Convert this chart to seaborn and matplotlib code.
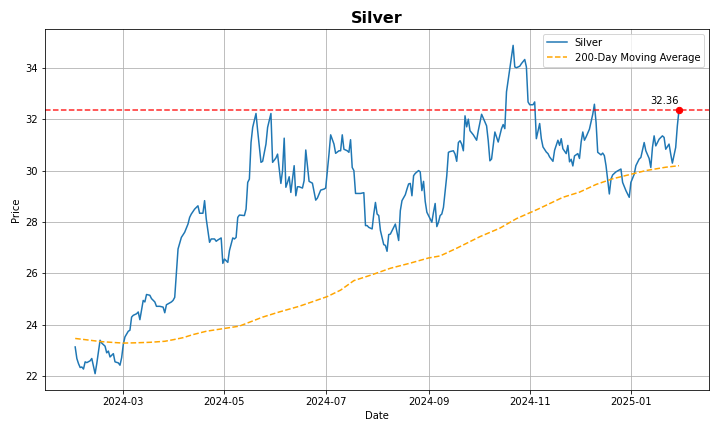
import matplotlib
matplotlib.use("Agg")
import matplotlib.pyplot as plt
import seaborn as sns
import pandas as pd

start_date = "2024-02-01"
threshold = 32.36

# days after start_date
price_days = [0, 1, 2, 3, 4, 5, 6, 7, 9, 10, 12, 13, 15, 16, 18, 19, 20, 21, 23, 24,
              26, 27, 28, 29, 30, 32, 33, 34, 35, 37, 38, 39, 41, 42, 43, 45, 46, 48, 49, 51,
              53, 54, 55, 58, 59, 60, 62, 64, 66, 68, 69, 70, 72, 74, 75, 77, 78, 79, 81, 82,
              84, 85, 86, 88, 89, 90, 92, 93, 95, 96, 97, 98, 99, 102, 103, 104, 105, 106, 107, 109,
              110, 112, 113, 115, 116, 118, 119, 121, 122, 124, 125, 126, 127, 128, 129, 130, 132, 133, 134, 135,
              137, 138, 139, 141, 143, 145, 146, 148, 150, 151, 153, 154, 156, 157, 159, 160, 161, 162, 164, 165,
              166, 167, 168, 169, 172, 174, 175, 176, 177, 179, 180, 181, 182, 183, 184, 186, 187, 188, 189, 190,
              192, 193, 194, 195, 196, 197, 199, 200, 201, 202, 203, 204, 205, 207, 208, 209, 210, 211, 212, 214,
              215, 216, 217, 218, 219, 220, 221, 222, 224, 225, 226, 228, 229, 230, 231, 232, 233, 234, 235, 236,
              237, 238, 240, 242, 243, 245, 246, 248, 249, 250, 251, 253, 254, 255, 257, 258, 259, 260, 261, 262,
              264, 265, 266, 268, 269, 271, 272, 273, 274, 276, 277, 278, 280, 281, 282, 284, 285, 286, 288, 289,
              291, 292, 293, 294, 296, 297, 298, 299, 300, 301, 303, 304, 305, 306, 307, 308, 310, 312, 313, 314,
              315, 317, 318, 319, 320, 322, 323, 324, 326, 329, 330, 332, 334, 335, 337, 338, 340, 341, 343, 344,
              346, 347, 348, 349, 350, 352, 354, 355, 356, 358, 359, 360, 362, 363, 364]

price_vals = [23.14, 22.69, 22.49, 22.34, 22.36, 22.28, 22.56, 22.53, 22.60, 22.69, 22.10, 22.49, 23.40, 23.29, 23.17, 22.91, 22.98, 22.75, 22.88, 22.56,
              22.52, 22.43, 22.72, 23.24, 23.53, 23.75, 23.79, 24.30, 24.37, 24.43, 24.50, 24.20, 24.95, 24.89, 25.18, 25.15, 25.02, 24.89, 24.72, 24.72,
              24.69, 24.47, 24.78, 24.89, 24.95, 25.07, 26.95, 27.40, 27.60, 27.92, 28.18, 28.31, 28.50, 28.63, 28.34, 28.34, 28.83, 28.12, 27.21, 27.34,
              27.34, 27.25, 27.30, 27.38, 26.39, 26.56, 26.43, 26.89, 27.38, 27.34, 27.40, 28.18, 28.27, 28.25, 28.50, 29.54, 29.67, 31.09, 31.68, 32.22,
              31.55, 30.32, 30.36, 31.03, 31.68, 32.22, 30.32, 30.49, 30.64, 29.50, 30.00, 31.26, 29.35, 29.54, 29.76, 29.15, 30.19, 29.02, 29.37, 29.37,
              29.32, 29.61, 30.80, 29.58, 29.51, 28.85, 28.93, 29.24, 29.28, 29.32, 30.64, 31.39, 31.03, 30.67, 30.77, 30.77, 31.39, 30.83, 30.77, 30.71,
              31.20, 30.12, 30.00, 29.11, 29.11, 29.14, 27.86, 27.86, 27.79, 27.73, 28.31, 28.76, 28.31, 28.25, 27.67, 27.12, 27.09, 26.86, 27.51, 27.53,
              27.79, 27.92, 27.60, 27.28, 28.44, 28.83, 29.06, 29.28, 29.48, 29.50, 29.02, 29.80, 29.89, 30.00, 29.95, 29.22, 29.58, 28.80, 28.38, 28.12,
              27.99, 28.38, 28.72, 27.82, 27.99, 28.25, 28.31, 28.57, 29.80, 30.71, 30.74, 30.77, 30.64, 30.36, 31.09, 31.16, 31.03, 30.77, 32.13, 31.70,
              32.00, 31.55, 31.39, 31.18, 31.55, 32.19, 32.04, 31.74, 31.16, 30.38, 30.45, 31.50, 31.31, 31.11, 31.63, 31.79, 31.63, 33.06, 33.51, 33.96,
              34.87, 34.03, 34.00, 34.06, 34.16, 34.32, 34.03, 32.67, 32.56, 32.56, 32.67, 31.24, 31.83, 31.24, 30.92, 30.72, 30.66, 30.53, 30.36, 30.79,
              31.18, 30.98, 31.24, 30.85, 30.66, 30.98, 30.34, 30.44, 30.18, 30.57, 30.66, 30.47, 31.11, 31.50, 31.18, 31.31, 31.61, 32.19, 32.58, 31.87,
              30.71, 30.61, 30.68, 30.58, 30.19, 29.09, 29.67, 29.83, 29.95, 30.06, 29.54, 29.22, 28.96, 29.54, 29.86, 30.19, 30.45, 30.51, 31.09, 30.77,
              30.47, 30.12, 30.90, 31.35, 30.96, 31.22, 31.35, 31.29, 30.83, 31.03, 30.64, 30.29, 30.90, 31.74, 32.36]

ma_days = [0, 9, 15, 24, 29, 36, 45, 54, 59, 65, 71, 79, 89, 99, 105, 113, 123, 135, 144, 152,
           160, 168, 179, 190, 202, 213, 220, 230, 244, 256, 266, 279, 294, 304, 314, 324, 334, 344, 356, 364]
ma_vals = [23.47, 23.40, 23.35, 23.31, 23.29, 23.30, 23.32, 23.36, 23.42, 23.50, 23.62, 23.75, 23.85, 23.95, 24.10, 24.30, 24.50, 24.72, 24.92, 25.10,
           25.35, 25.72, 25.95, 26.20, 26.40, 26.60, 26.68, 26.98, 27.43, 27.76, 28.13, 28.50, 28.96, 29.16, 29.46, 29.68, 29.84, 30.00, 30.13, 30.19]

t0 = pd.Timestamp(start_date)
price_df = pd.DataFrame({"Date": t0 + pd.to_timedelta(price_days, unit="D"), "Price": price_vals})
ma_df = pd.DataFrame({"Date": t0 + pd.to_timedelta(ma_days, unit="D"), "Price": ma_vals})

fig, ax = plt.subplots(figsize=(10, 6), dpi=72)

sns.lineplot(data=price_df, x="Date", y="Price", ax=ax, color="#1f77b4", linewidth=1.5, label="Silver")
sns.lineplot(data=ma_df, x="Date", y="Price", ax=ax, color="orange", linewidth=1.5,
             linestyle="--", label="200-Day Moving Average")

ax.axhline(threshold, color="red", linestyle="--", linewidth=1.5, alpha=0.85)
last_date = price_df["Date"].iloc[-1]
last_val = price_df["Price"].iloc[-1]
ax.scatter([last_date], [last_val], color="red", s=40, zorder=5)
ax.annotate(f"{last_val:.2f}", (last_date, last_val), xytext=(0, 4), textcoords="offset points",
            ha="right", va="bottom", fontsize=10)

ax.set_title("Silver", fontsize=16, fontweight="bold")
ax.set_xlabel("Date")
ax.set_ylabel("Price")
ax.grid(True)
ax.legend(loc="upper right")

fig.subplots_adjust(left=0.0625, right=0.985, top=0.933, bottom=0.097)
fig.savefig("out.png", dpi=72)
